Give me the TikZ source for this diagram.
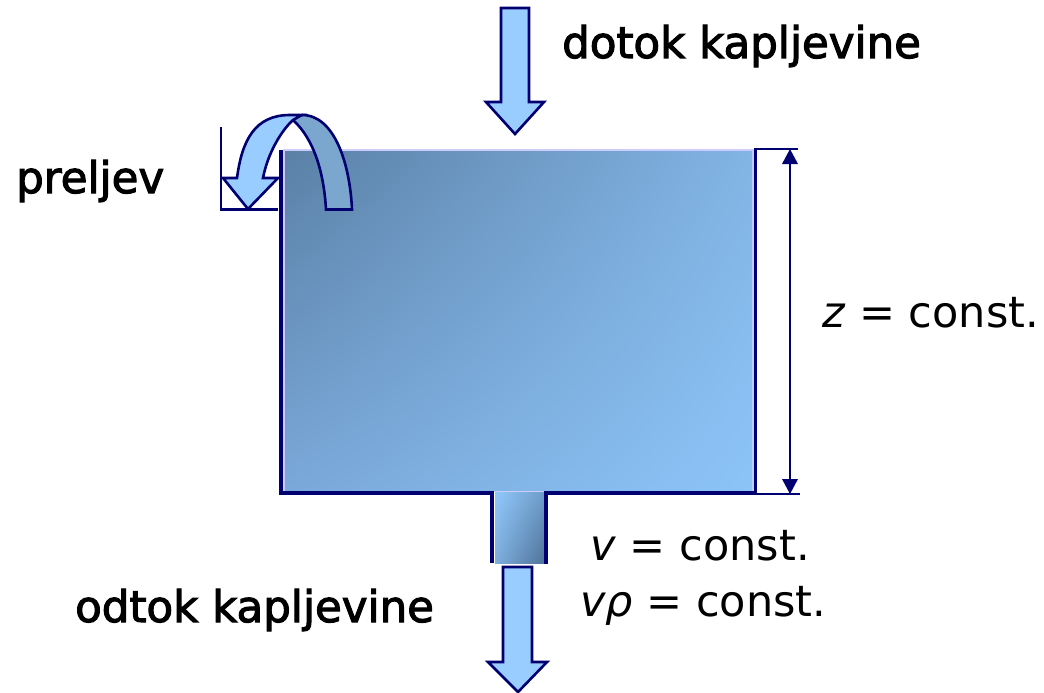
\documentclass[tikz,border=0pt]{standalone}
\usepackage{fontspec}
\usetikzlibrary{calc,shadings}
\setmainfont{DejaVu Sans}
\newfontfamily\labelfont[FakeBold=2.5]{DejaVu Sans}
\definecolor{wallblue}{HTML}{000070}
\definecolor{arrowblue}{HTML}{99CCFF}
\definecolor{bandblue}{HTML}{7BA6CE}
\definecolor{tankul}{HTML}{5A80A6}
\definecolor{tankur}{HTML}{82B4E4}
\definecolor{tankll}{HTML}{7AA8D8}
\definecolor{tanklr}{HTML}{8CC4F8}
\definecolor{pipeul}{HTML}{90C8FC}
\definecolor{pipeur}{HTML}{6E9CC8}
\definecolor{pipell}{HTML}{7EAEDC}
\definecolor{pipelr}{HTML}{4F7299}
\tikzset{
  wall/.style={draw=wallblue,line width=3.2pt},
  thin wall/.style={draw=wallblue,line width=2.4pt},
  flow arrow/.style={draw=wallblue,line width=2.6pt,fill=arrowblue,line join=miter},
  dim tip/.style={fill=wallblue,draw=none},
  title label/.style={font=\labelfont\fontsize{43.5}{44}\selectfont,anchor=base west,inner sep=0pt,text=black},
  math label/.style={font=\fontsize{43}{44}\selectfont,anchor=base west,inner sep=0pt,text=black}
}
\begin{document}
\begin{tikzpicture}[x=1pt,y=-1pt]
\useasboundingbox (0,0) rectangle (1044,693);
% tank
\draw[draw=white!80!blue,line width=1.5pt] (284,150) rectangle (753,491);
\shade[upper left=tankul,upper right=tankur,lower left=tankll,lower right=tanklr] (285,151) rectangle (752,490);
% pipe
\shade[upper left=pipeul,upper right=pipeur,lower left=pipell,lower right=pipelr] (495,492) rectangle (545,563);
% walls
\coordinate (tl) at (281,150);
\coordinate (bl) at (281,493);
\coordinate (pl) at (492,493);
\coordinate (plb) at (492,563);
\coordinate (pr) at (546,493);
\coordinate (prb) at (546,564);
\coordinate (br) at (755.5,493);
\coordinate (tr) at (755.5,149);
\coordinate (tick t) at (798,149);
\coordinate (tick b) at (800,494);
\coordinate (dim t) at (790,149);
\coordinate (dim b) at (790,494);
\draw[wall] (tl) -- (bl) -- (pl) -- (plb);
\draw[wall] (prb) -- (pr) -- (br);
\draw[thin wall] (br) -- (tr) -- (tick t);
\draw[thin wall] (br |- tick b) -- (tick b);
\draw[thin wall] ($(dim t)+(0,12)$) -- ($(dim b)+(0,-12)$);
\fill[dim tip] (dim t) -- ++(8,15) -- ++(-16,0) -- cycle;
\fill[dim tip] (dim b) -- ++(8,-15) -- ++(-16,0) -- cycle;
% inflow arrow
\draw[flow arrow] (501,8) -- (529,8) -- (529,102) -- (544,102) -- (515,134) -- (486,102) -- (501,102) -- cycle;
% outflow arrow
\draw[flow arrow] (503,567) -- (532,567) -- (532,662) -- (547,662) -- (518,692) -- (488,662) -- (503,662) -- cycle;
% overflow
\draw[thin wall] (221,127) -- (221,209.5) -- (278,209.5);
\fill[bandblue] (293,120) .. controls (315,140) and (324,175) .. (326,209.5) -- (352,209.5)
  .. controls (350,165) and (335,115) .. (302,115) -- (293,115) -- cycle;
\draw[flow arrow] (293,120) .. controls (282,130) and (268,152) .. (263,178) -- (278,178) -- (248,209) -- (223,178) -- (237,178)
  .. controls (242,140) and (255,115) .. (290,115) -- (302,115) -- cycle;
\draw[draw=wallblue,line width=2.6pt] (293,120) .. controls (315,140) and (324,175) .. (326,209.5) -- (352,209.5)
  .. controls (350,165) and (335,115) .. (302,115);
% labels
\node[title label] (inflow) at (562,58) {dotok kapljevine};
\node[title label] (over) at (16,193) {preljev};
\node[title label] (outflow) at (75,622) {odtok kapljevine};
\node[math label] (zc) at (822,327) {\textit{z} = const.};
\node[math label] (vc) at (590,560) {\textit{v} = const.};
\node[math label] (vrc) at (580,616) {\textit{vρ} = const.};
\end{tikzpicture}
\end{document}
